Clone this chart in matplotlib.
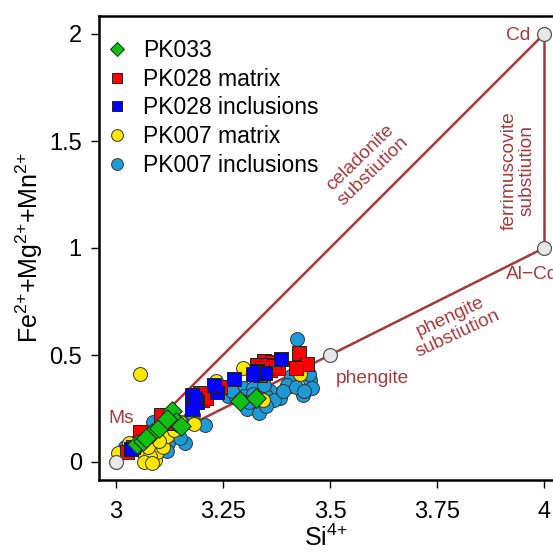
import matplotlib
matplotlib.use("Agg")
import matplotlib.pyplot as plt
from matplotlib.lines import Line2D

plt.rcParams['font.family'] = ['Liberation Sans', 'DejaVu Sans']
plt.rcParams['mathtext.fontset'] = 'custom'
plt.rcParams['mathtext.rm'] = 'Liberation Sans'
plt.rcParams['mathtext.it'] = 'Liberation Sans'
plt.rcParams['mathtext.default'] = 'regular'

# end members
end_si = [3.0, 3.5, 4.0, 4.0]
end_fe = [0.0, 0.5, 1.0, 2.0]

# PK033
pk033_si = [3.048, 3.064, 3.085, 3.101, 3.132, 3.14, 3.151, 3.29, 3.326, 3.07, 3.12]
pk033_fe = [0.083, 0.098, 0.137, 0.16, 0.238, 0.188, 0.168, 0.287, 0.30, 0.11, 0.20]

# PK028 matrix
pk028m_si = [3.025, 3.056, 3.104, 3.196, 3.243, 3.2, 3.346, 3.329, 3.364, 3.36, 3.379,
             3.336, 3.428, 3.447, 3.42, 3.355, 3.37, 3.34, 3.04, 3.13, 3.21]
pk028m_fe = [0.048, 0.142, 0.22, 0.321, 0.352, 0.29, 0.473, 0.453, 0.469, 0.43, 0.438,
             0.407, 0.51, 0.46, 0.44, 0.455, 0.45, 0.44, 0.07, 0.18, 0.30]

# PK028 inclusions
pk028i_si = [3.385, 3.33, 3.347, 3.276, 3.235, 3.177, 3.19, 3.177, 3.185, 3.035, 3.23, 3.32]
pk028i_fe = [0.48, 0.427, 0.414, 0.386, 0.329, 0.313, 0.282, 0.246, 0.30, 0.06, 0.36, 0.41]

# PK007 matrix
pk007m_si = [3.056, 3.431, 3.297, 3.234, 3.344, 3.182, 3.005, 3.03, 3.072, 3.091, 3.095,
             3.15, 3.06, 3.08, 3.11, 3.12, 3.045, 3.075, 3.1, 3.065, 3.085, 3.135]
pk007m_fe = [0.41, 0.41, 0.438, 0.38, 0.29, 0.178, 0.04, 0.087, 0.017, 0.009, 0.048,
             0.188, 0.05, 0.03, 0.07, 0.12, 0.065, 0.07, 0.10, 0.0, -0.005, 0.15]

# PK007 inclusions
pk007i_si = [3.422, 3.41, 3.453, 3.457, 3.437, 3.399, 3.379, 3.383, 3.305, 3.333, 3.262,
             3.297, 3.32, 3.36, 3.40, 3.208, 3.161, 3.122, 3.087, 3.11, 3.14, 3.17, 3.1,
             3.07, 3.05, 3.03, 3.02, 3.13, 3.15, 3.18, 3.28, 3.30, 3.32, 3.35, 3.37, 3.39,
             3.42, 3.44, 3.345, 3.27, 3.29, 3.31, 3.45, 3.35, 3.12, 3.09]
pk007i_fe = [0.573, 0.40, 0.383, 0.344, 0.313, 0.352, 0.313, 0.30, 0.25, 0.227, 0.308,
             0.344, 0.345, 0.33, 0.36, 0.173, 0.087, 0.087, 0.188, 0.15, 0.13, 0.20, 0.12,
             0.14, 0.10, 0.08, 0.07, 0.17, 0.11, 0.22, 0.30, 0.31, 0.32, 0.31, 0.29, 0.33,
             0.35, 0.33, 0.36, 0.33, 0.29, 0.28, 0.41, 0.26, 0.05, 0.09]

xticks = [3, 3.25, 3.5, 3.75, 4]
xtick_labels = ["3", "3.25", "3.5", "3.75", "4"]
yticks = [0, 0.5, 1, 1.5, 2]
ytick_labels = ["0", "0.5", "1", "1.5", "2"]

brown = '#A63A3A'

fig = plt.figure(figsize=(5.53, 5.52), dpi=100)
ax = fig.add_axes([98.5 / 553, 72 / 552, 1 - 98.5 / 553, 464 / 552])

# substitution lines
ax.plot([end_si[0], end_si[3]], [end_fe[0], end_fe[3]], color=brown, lw=1.8, zorder=2)
ax.plot(end_si[:3], end_fe[:3], color=brown, lw=1.8, zorder=2)
ax.plot([end_si[2], end_si[3]], [end_fe[2], end_fe[3]], color=brown, lw=1.8, zorder=2)

ms = 100
ax.scatter(pk007i_si, pk007i_fe, s=ms, marker='o', color='#1E9BD7', edgecolor='#333333', lw=0.7, zorder=3)
ax.scatter(pk007m_si, pk007m_fe, s=ms, marker='o', color='#FFE800', edgecolor='#333333', lw=0.7, zorder=4)
ax.scatter(pk028m_si, pk028m_fe, s=88, marker='s', color='#FF0000', edgecolor='#222222', lw=0.7, zorder=5)
ax.scatter(pk028i_si, pk028i_fe, s=88, marker='s', color='#0000FF', edgecolor='#222222', lw=0.7, zorder=6)
ax.scatter(pk033_si, pk033_fe, s=100, marker='D', color='#10C010', edgecolor='#222222', lw=0.7, zorder=7)

ax.scatter(end_si, end_fe, s=100, marker='o', color='#E8E8E8', edgecolor='#555555', lw=0.9,
           zorder=8, clip_on=False)

fs = 13.8
ax.text(3.012, 0.205, "Ms", color=brown, fontsize=fs, ha='center', va='center')
ax.text(3.6, 0.39, "phengite", color=brown, fontsize=fs, ha='center', va='center')
ax.text(3.94, 1.995, "Cd", color=brown, fontsize=fs, ha='center', va='center')
ax.text(3.91, 0.875, "Al\u2212Cd", color=brown, fontsize=fs, ha='left', va='center',
        clip_on=False)
ax.text(3.585, 1.39, "celadonite\nsubstiution", color=brown, fontsize=fs, ha='center',
        va='center', rotation=44, rotation_mode='anchor', linespacing=1.1)
ax.text(3.94, 1.36, "ferrimuscovite\nsubstiution", color=brown, fontsize=fs, ha='center',
        va='center', rotation=90, rotation_mode='anchor', linespacing=1.1)
ax.text(3.79, 0.64, "phengite\nsubstiution", color=brown, fontsize=fs, ha='center',
        va='center', rotation=25, rotation_mode='anchor', linespacing=1.1)

ax.set_xlim(3 - 17.5 / 428, 3 + 437 / 428)
ax.set_ylim(-18 / 214, 2 + 18 / 214)
ax.set_xticks(xticks)
ax.set_xticklabels(xtick_labels)
ax.set_yticks(yticks)
ax.set_yticklabels(ytick_labels)
ax.tick_params(labelsize=17, length=6, width=1, direction='out')
ax.tick_params(axis='x', pad=9)
ax.tick_params(axis='y', pad=6)
for side in ['left', 'bottom', 'top']:
    ax.spines[side].set_linewidth(1.8)
ax.spines['right'].set_visible(False)

ax.set_xlabel(r"Si$^{4{+}}$", fontsize=18, labelpad=1)
ax.set_ylabel(r"Fe$^{2{+}}$+Mg$^{2{+}}$+Mn$^{2{+}}$", fontsize=18, labelpad=3)

handles = [
    Line2D([], [], ls='', marker='D', ms=7, mfc='#10C010', mec='#222222', mew=0.7),
    Line2D([], [], ls='', marker='s', ms=7.5, mfc='#FF0000', mec='#222222', mew=0.7),
    Line2D([], [], ls='', marker='s', ms=7.5, mfc='#0000FF', mec='#222222', mew=0.7),
    Line2D([], [], ls='', marker='o', ms=8.5, mfc='#FFE800', mec='#333333', mew=0.7),
    Line2D([], [], ls='', marker='o', ms=8.5, mfc='#1E9BD7', mec='#333333', mew=0.7),
]
labels = ["PK033", "PK028 matrix", "PK028 inclusions", "PK007 matrix", "PK007 inclusions"]
ax.legend(handles, labels, loc='upper left', bbox_to_anchor=(-0.02, 0.985), frameon=False,
          fontsize=16.5, handletextpad=0.65, labelspacing=0.25, borderaxespad=0.3,
          handlelength=1.0)

fig.savefig("out.png", dpi=100)
